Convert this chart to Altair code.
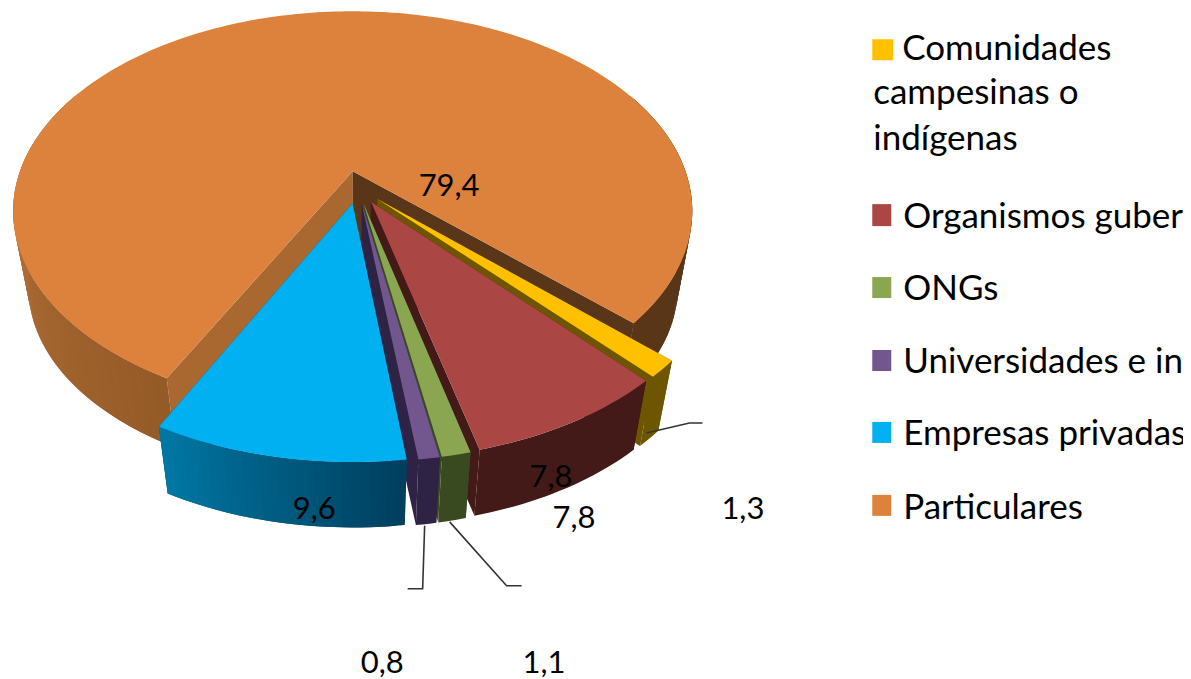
import math
import altair as alt

# ---- chart values ----
names = ["Comunidades campesinas o indígenas", "Organismos gubernamentales", "ONGs",
         "Universidades e instituciones", "Empresas privadas", "Particulares"]
values = [1.3, 7.8, 1.1, 0.8, 9.6, 79.4]
top_colors = ["#FFC000", "#AA4644", "#8BA650", "#72578F", "#00B0F0", "#DC823C"]
side_colors = ["#6E5600", "#431A18", "#3A4A20", "#2F2345", "#004E70", "#5A3618"]

label_texts = ["79,4", "7,8", "7,8", "1,3", "9,6", "0,8", "1,1"]
label_x = [419, 530, 553, 722, 293, 361, 523]
label_y = [196, 487, 528, 519, 519, 673, 673]

legend_lines = ["Comunidades", "campesinas o", "indígenas", "Organismos gubernamentales", "ONGs",
                "Universidades e instituciones", "Empresas privadas", "Particulares"]
legend_line_x = [903, 874, 874, 904, 904, 904, 904, 904]
legend_line_y = [60, 104, 150, 228, 300, 373, 445, 519]
swatch_left = [873, 873, 873, 873, 873, 873]
swatch_right = [894, 892, 892, 892, 892, 892]
swatch_top = [39, 204, 277, 350, 422, 495]
swatch_bottom = [60, 226, 298, 371, 443, 516]

leader_id = [0, 0, 0, 1, 1, 1, 2, 2, 2]
leader_x = [647, 690, 703, 450, 507, 522, 425, 423, 408]
leader_y = [433, 423, 423, 522, 586, 586, 526, 589, 589]

# ---- 3-D pie geometry: perspective map of the pie plane onto the page ----
PW, PH = 1184, 679
OX, OY = 8, 8
CX, CY, SX, SY, K = 353.0, 171.0, 333.0, 192.0, 0.2
START = 43.2      # clockwise from +x, degrees
EXPLODE = 0.083
EXT_A, VX, VY = 0.044, 361.0, 1950.0


def proj(u, v):
    w = 1 - K * v
    return CX + SX * u / w, CY + SY * v / w


def down(p):
    return p[0] + EXT_A * (VX - p[0]), p[1] + EXT_A * (VY - p[1])


def lerp_hex(a, b, t):
    t = max(0.0, min(1.0, t))
    pa = [int(a[i:i + 2], 16) for i in (1, 3, 5)]
    pb = [int(b[i:i + 2], 16) for i in (1, 3, 5)]
    return "#%02x%02x%02x" % tuple(round(x + (y - x) * t) for x, y in zip(pa, pb))


features = []


def add(points, color):
    ring = [[p[0] - OX, p[1] - OY] for p in points]
    ring.append(ring[0])
    features.append({"type": "Feature",
                     "geometry": {"type": "Polygon", "coordinates": [ring]},
                     "properties": {"color": color}})


spans = []
a0 = START
for val in values:
    a1 = a0 + val * 3.6
    spans.append((a0, a1))
    a0 = a1


def unit(deg):
    r = math.radians(deg)
    return math.cos(r), math.sin(r)


do = unit(sum(spans[5]) / 2)


def slice_layer(i):
    t0, t1 = spans[i]
    d = unit((t0 + t1) / 2)
    ou, ov = EXPLODE * (d[0] - do[0]), EXPLODE * (d[1] - do[1])
    if i == 5:
        ou, ov = 0.0, 0.0

    def pt(deg):
        c, s = unit(deg)
        return proj(ou + c, ov + s)

    apex = proj(ou, ov)
    p0, p1 = pt(t0), pt(t1)
    steps = max(3, int((t1 - t0) / 1.2))
    degs = [t0 + (t1 - t0) * k / steps for k in range(steps + 1)]

    # cut walls first, rim after them
    if i == 5:
        add([apex, p0, down(p0), down(apex)], "#A8682F")
        add([apex, p1, down(p1), down(apex)], "#5A3618")
    else:
        add([apex, p0, down(p0), down(apex)], side_colors[i])
        add([apex, p1, down(p1), down(apex)], side_colors[i])

    # outer rim (overlapping strips where the colour varies)
    if i == 5:
        for k in range(steps):
            a, b = degs[k], degs[min(k + 2, steps)]
            m = degs[k] + 0.6
            if m <= 205:
                col = lerp_hex("#945A27", "#B7743A", (m - 117.5) / 70)
            elif m >= 335:
                col = side_colors[5]
            else:
                continue
            qa, qb = pt(a), pt(b)
            add([qa, qb, down(qb), down(qa)], col)
    elif i == 4:
        for k in range(steps):
            a, b = degs[k], degs[min(k + 2, steps)]
            col = lerp_hex("#003F5E", "#0079A6", (degs[k] - t0) / (t1 - t0))
            qa, qb = pt(a), pt(b)
            add([qa, qb, down(qb), down(qa)], col)
    else:
        rim = [pt(a) for a in degs]
        add(rim + [down(q) for q in reversed(rim)], side_colors[i])

    # top face
    add([apex] + [pt(a) for a in degs], top_colors[i])


for idx in [5, 0, 1, 2, 3, 4]:
    slice_layer(idx)

# ---- chart ----
xs = alt.Scale(domain=[OX, PW], nice=False, zero=False)
ys = alt.Scale(domain=[PH, OY], nice=False, zero=False)
X = lambda f: alt.X(f, type="quantitative", scale=xs, axis=None)
Y = lambda f: alt.Y(f, type="quantitative", scale=ys, axis=None)

pie = alt.Chart(alt.Data(values=features)).mark_geoshape(strokeWidth=0).encode(
    fill=alt.Fill("properties.color:N", scale=None, legend=None),
).project(type="identity", scale=1, translate=[0, 0])

leaders = alt.Chart(alt.Data(values=[
    {"id": i, "x": x, "y": y, "o": n}
    for n, (i, x, y) in enumerate(zip(leader_id, leader_x, leader_y))
])).mark_line(color="#333333", strokeWidth=1.6).encode(
    x=X("x"), y=Y("y"), detail="id:N", order="o:Q")

labels = alt.Chart(alt.Data(values=[
    {"t": t, "x": x, "y": y} for t, x, y in zip(label_texts, label_x, label_y)
])).mark_text(font="Lato", fontSize=31, align="left", baseline="alphabetic", color="#000000").encode(
    x=X("x"), y=Y("y"), text="t:N")

legend_text = alt.Chart(alt.Data(values=[
    {"t": t, "x": x, "y": y} for t, x, y in zip(legend_lines, legend_line_x, legend_line_y)
])).mark_text(font="Lato", fontSize=35, align="left", baseline="alphabetic", color="#000000").encode(
    x=X("x"), y=Y("y"), text="t:N")

swatches = alt.Chart(alt.Data(values=[
    {"x": a, "x2": b, "y": c, "y2": d, "c": col}
    for a, b, c, d, col in zip(swatch_left, swatch_right, swatch_top, swatch_bottom, top_colors)
])).mark_rect().encode(
    x=X("x"), x2="x2:Q", y=Y("y"), y2="y2:Q",
    fill=alt.Fill("c:N", scale=None, legend=None))

chart = alt.layer(pie, leaders, labels, swatches, legend_text).properties(
    width=PW - OX, height=PH - OY, padding=0,
    autosize=alt.AutoSizeParams(type="none"),
    background="#FFFFFF",
).configure_view(stroke=None)

chart.save("out.html", embed_options={"renderer": "svg", "actions": False})
